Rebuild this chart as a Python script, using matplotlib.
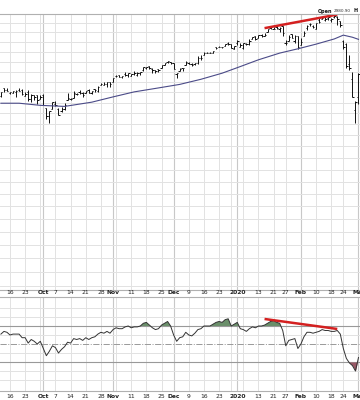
import numpy as np
import pandas as pd
import matplotlib
matplotlib.use("Agg")
import matplotlib.pyplot as plt

# trading days 2019-09-11 .. 2020-03-02
holidays = ["2019-11-28", "2019-12-25", "2020-01-01", "2020-01-20", "2020-02-17"]
dates = pd.bdate_range("2019-09-11", "2020-03-02")
dates = dates[~dates.isin(pd.to_datetime(holidays))]

opens = [2981.4, 3018.2, 3012.2, 2996.4, 2995.7, 3001.5, 3010.4, 3008.4, 2983.5, 3002.4,
         2968.4, 2985.7, 2985.5, 2967.1, 2983.7, 2924.8, 2885.4, 2918.6, 2944.2, 2920.4,
         2911.1, 2918.6, 2963.1, 2965.8, 2973.6, 2989.7, 3000.8, 2996.8, 2996.5, 3010.7,
         2994.0, 3014.8, 3003.3, 3032.1, 3035.4, 3039.7, 3046.9, 3050.7, 3079.0, 3080.8,
         3075.1, 3087.0, 3081.3, 3080.3, 3089.3, 3084.2, 3090.8, 3107.9, 3117.9, 3127.5,
         3114.7, 3108.5, 3111.4, 3117.4, 3134.9, 3145.5, 3147.2, 3143.9, 3087.4, 3103.5,
         3119.2, 3134.6, 3141.9, 3135.4, 3135.8, 3141.2, 3166.7, 3183.6, 3195.4, 3195.2,
         3192.3, 3223.3, 3226.1, 3225.4, 3227.2, 3247.2, 3240.1, 3215.2, 3244.7, 3226.4,
         3217.6, 3241.9, 3238.6, 3266.0, 3281.0, 3271.1, 3285.4, 3282.3, 3303.0, 3323.7,
         3321.0, 3330.0, 3315.8, 3333.1, 3247.2, 3255.4, 3289.5, 3256.5, 3282.3, 3235.7,
         3280.6, 3324.9, 3344.9, 3335.5, 3318.3, 3365.9, 3370.5, 3365.9, 3378.1, 3369.0,
         3380.4, 3380.5, 3360.5, 3257.6, 3238.9, 3139.9, 3062.5, 2916.9, 2974.3]
highs = [3000.9, 3020.0, 3017.3, 3002.2, 3006.2, 3007.8, 3021.2, 3016.4, 2999.2, 3008.0,
         2989.8, 2987.3, 2987.3, 2983.8, 2992.5, 2924.8, 2911.1, 2953.7, 2959.8, 2925.5,
         2929.3, 2948.5, 2993.3, 2972.8, 3003.3, 2997.5, 3008.3, 3000.0, 3007.3, 3014.6,
         3004.8, 3016.1, 3027.4, 3044.1, 3047.9, 3050.1, 3046.9, 3067.0, 3085.2, 3084.0,
         3078.3, 3097.8, 3093.1, 3088.3, 3102.6, 3098.1, 3098.2, 3120.5, 3124.2, 3127.6,
         3119.0, 3110.1, 3112.9, 3133.8, 3142.7, 3154.3, 3150.3, 3144.3, 3095.0, 3119.4,
         3119.4, 3150.6, 3148.9, 3142.1, 3144.0, 3176.3, 3182.7, 3197.7, 3198.2, 3198.5,
         3205.5, 3225.7, 3227.8, 3226.4, 3240.1, 3247.9, 3240.9, 3231.7, 3258.1, 3246.2,
         3246.8, 3244.9, 3267.1, 3275.6, 3283.0, 3288.1, 3294.3, 3298.7, 3317.1, 3329.9,
         3329.8, 3337.8, 3326.9, 3333.2, 3258.8, 3285.8, 3293.5, 3285.9, 3282.3, 3268.4,
         3306.9, 3337.6, 3348.0, 3341.4, 3352.3, 3375.6, 3381.5, 3385.1, 3380.7, 3375.0,
         3393.5, 3389.2, 3360.8, 3259.8, 3247.0, 3182.5, 3097.1, 2959.7, 3091.0]
lows = [2975.3, 3000.9, 3002.9, 2990.7, 2993.7, 2978.6, 3003.2, 2984.7, 2982.2, 2957.7,
        2952.9, 2963.7, 2945.5, 2967.1, 2938.7, 2874.9, 2855.9, 2918.6, 2935.7, 2892.7,
        2907.4, 2917.1, 2963.1, 2962.9, 2973.6, 2985.2, 2991.8, 2976.3, 2995.4, 2995.0,
        2991.2, 3000.4, 3001.9, 3032.1, 3034.8, 3026.0, 3023.2, 3050.7, 3074.9, 3072.2,
        3065.9, 3080.2, 3073.6, 3075.8, 3084.7, 3078.8, 3083.3, 3104.6, 3112.1, 3113.5,
        3091.4, 3094.6, 3099.3, 3117.4, 3131.0, 3143.4, 3139.3, 3110.8, 3070.3, 3102.5,
        3103.8, 3134.6, 3135.5, 3126.1, 3133.2, 3138.5, 3156.5, 3183.6, 3191.0, 3191.1,
        3192.3, 3216.0, 3222.3, 3220.5, 3227.2, 3234.4, 3216.6, 3212.0, 3235.5, 3222.3,
        3214.6, 3232.4, 3236.7, 3263.7, 3260.9, 3268.4, 3277.2, 3280.7, 3303.0, 3318.9,
        3316.6, 3320.0, 3301.9, 3281.5, 3234.5, 3253.2, 3271.9, 3242.8, 3214.7, 3235.7,
        3280.6, 3313.8, 3334.4, 3322.1, 3317.8, 3352.7, 3369.7, 3360.5, 3366.2, 3355.6,
        3378.8, 3341.0, 3328.5, 3214.7, 3118.8, 3109.0, 2977.4, 2855.8, 2945.2]
closes = [3000.9, 3009.6, 3007.4, 2998.0, 3005.7, 3006.7, 3006.8, 2992.1, 2991.8, 2966.6,
          2984.9, 2977.6, 2961.8, 2976.7, 2940.3, 2887.6, 2910.6, 2952.0, 2938.8, 2893.1,
          2919.4, 2938.1, 2970.3, 2966.2, 2995.7, 2989.7, 2997.9, 2986.2, 3006.7, 2996.0,
          3004.5, 3010.3, 3022.6, 3039.4, 3036.9, 3046.8, 3037.6, 3066.9, 3078.3, 3074.6,
          3076.8, 3085.2, 3093.1, 3087.0, 3091.8, 3094.0, 3096.6, 3120.5, 3122.0, 3120.2,
          3108.5, 3103.5, 3110.3, 3133.6, 3140.5, 3153.6, 3141.0, 3113.9, 3093.2, 3112.8,
          3117.4, 3145.9, 3136.0, 3132.5, 3141.6, 3168.6, 3168.8, 3191.5, 3192.5, 3191.1,
          3205.4, 3221.2, 3224.0, 3223.4, 3239.9, 3240.0, 3221.3, 3230.8, 3257.9, 3234.9,
          3246.3, 3237.2, 3253.1, 3274.7, 3265.4, 3288.1, 3283.2, 3289.3, 3316.8, 3329.6,
          3320.8, 3321.8, 3325.5, 3295.5, 3243.6, 3276.2, 3273.4, 3283.7, 3225.5, 3248.9,
          3297.6, 3334.7, 3345.8, 3327.7, 3352.1, 3357.8, 3379.5, 3373.9, 3380.2, 3370.3,
          3386.2, 3373.2, 3337.8, 3225.9, 3128.2, 3116.4, 2978.8, 2954.2, 3090.2]

# 50-day moving average, read at sparse dates
ma_dates = ["2019-09-11", "2019-09-19", "2019-09-30", "2019-10-10", "2019-10-23",
            "2019-11-01", "2019-11-12", "2019-11-22", "2019-12-04", "2019-12-13",
            "2019-12-24", "2020-01-03", "2020-01-13", "2020-01-23", "2020-01-31",
            "2020-02-10", "2020-02-19", "2020-02-24", "2020-02-27", "2020-03-02"]
ma_vals = [2947, 2947, 2937, 2932, 2952, 2977, 3001, 3020, 3037, 3062,
           3092, 3125, 3159, 3193, 3215, 3239, 3266, 3286, 3275, 3264]

rsi = [61, 64, 63, 60, 61, 61, 61, 57, 57, 51,
       55, 53, 50, 53, 45, 37, 42, 48, 46, 40,
       44, 47, 52, 51, 56, 55, 56, 54, 57, 55,
       57, 58, 61, 63, 62, 64, 62, 66, 68, 67,
       67, 69, 70, 68, 69, 69, 70, 73, 74, 71,
       68, 66, 67, 71, 73, 75, 70, 60, 53, 57,
       58, 63, 60, 59, 62, 66, 67, 70, 70, 70,
       72, 74, 75, 74, 77, 78, 70, 72, 74, 67,
       66, 64, 67, 69, 68, 70, 70, 71, 73, 75,
       76, 74, 73, 65, 48, 54, 55, 56, 45, 50,
       58, 63, 63, 62, 63, 64, 66, 65, 65, 64,
       64, 65, 61, 45, 34, 29, 26, 20, 35]

price_trend = [("2020-01-15", 3323), ("2020-02-20", 3396)]
rsi_trend = [("2020-01-15", 77.8), ("2020-02-20", 66.7)]

idx = np.arange(len(dates))
pos = {d: i for i, d in enumerate(dates)}
def di(s):
    return pos[pd.Timestamp(s)]

# week starts and month starts for grid and labels
week_start = [i for i in idx if i > 0 and dates[i].isocalendar()[1] != dates[i - 1].isocalendar()[1]]
month_start = [i for i in idx if i > 0 and dates[i].month != dates[i - 1].month]

labels = []
for m in month_start:
    d = dates[m]
    labels.append((m, "2020" if d.month == 1 else d.strftime("%b"), True))
for w in week_start:
    if any(abs(w - m) <= 2 for m in month_start):
        continue
    labels.append((w, str(dates[w].day), False))

fig = plt.figure(figsize=(3.6, 4.0), dpi=100)
xlim = (-0.3, 118.5)
ax = fig.add_axes([0, 1 - 290 / 400, 1, 276 / 400])
ax2 = fig.add_axes([0, 1 - 391 / 400, 1, 94 / 400])

for a in (ax, ax2):
    a.set_xlim(*xlim)
    for w in week_start:
        a.axvline(w, color="#e2e2e2", lw=0.7, zorder=0)
    for m in month_start:
        a.axvline(m, color="#c8c8c8", lw=0.8, zorder=0)
    a.set_xticks([])
    a.set_yticks([])
    a.minorticks_off()
    for s in ("left", "right"):
        a.spines[s].set_visible(False)
    for s in ("top", "bottom"):
        a.spines[s].set_color("#b0b0b0")
        a.spines[s].set_linewidth(0.8)

# price panel
ax.set_yscale("log")
ax.set_ylim(2186, 3399)
ax.minorticks_off()
ax.set_yticks([])
for p in range(2200, 3400, 50):
    ax.axhline(p, color="#e2e2e2", lw=0.7, zorder=0)

ax.vlines(idx, lows, highs, color="#111111", lw=0.7)
ax.hlines(opens, idx - 0.45, idx, color="#111111", lw=0.7)
ax.hlines(closes, idx, idx + 0.45, color="#111111", lw=0.7)
ax.plot([di(d) for d in ma_dates], ma_vals, color="#4b4b88", lw=0.8)
ax.plot([di(d) for d, _ in price_trend], [v for _, v in price_trend], color="#d42020", lw=1.8,
        solid_capstyle="butt")

fig.text(318 / 360, 1 - 11 / 400, "Open", fontsize=3.5, fontweight="bold", va="center", color="#111")
fig.text(334 / 360, 1 - 11 / 400, "2980.90", fontsize=3.0, va="center", color="#333")
fig.text(354 / 360, 1 - 11 / 400, "H", fontsize=3.5, fontweight="bold", va="center", color="#111")

# RSI panel
ax2.set_ylim(-2.2, 102.2)
for v in range(10, 100, 10):
    if v in (30, 50, 70):
        continue
    ax2.axhline(v, color="#e2e2e2", lw=0.7, zorder=0)
ax2.axhline(70, color="#999999", lw=0.8, zorder=1)
ax2.axhline(30, color="#999999", lw=0.8, zorder=1)
ax2.axhline(50, color="#999999", lw=0.7, ls="-.", zorder=1)
r = np.array(rsi, dtype=float)
ax2.fill_between(idx, r, 70, where=r >= 70, interpolate=True, color="#6a8f6a", lw=0, zorder=2)
ax2.fill_between(idx, r, 30, where=r <= 30, interpolate=True, color="#9a5866", lw=0, zorder=2)
ax2.plot(idx, r, color="#333333", lw=0.7, zorder=3)
ax2.plot([di(d) for d, _ in rsi_trend], [v for _, v in rsi_trend], color="#d42020", lw=1.8,
         solid_capstyle="butt", zorder=4)

# date labels (strip under price panel and under RSI panel)
for i, txt, bold in labels:
    xf = (i - xlim[0]) / (xlim[1] - xlim[0])
    for yf in (1 - 293 / 400, 1 - 396 / 400):
        fig.text(xf, yf, txt, fontsize=4.3, ha="center", va="center",
                 fontweight="bold" if bold else "normal", color="#222")

fig.savefig("out.png", dpi=100)
